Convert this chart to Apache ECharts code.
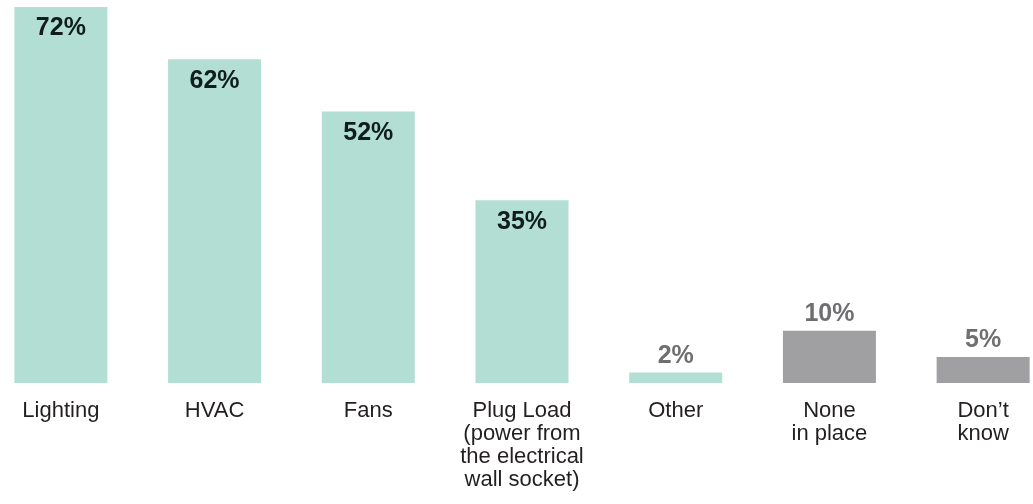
<!DOCTYPE html>
<html>
<head>
<meta charset="utf-8">
<script src="https://cdn.jsdelivr.net/npm/echarts@6/dist/echarts.min.js"></script>
<style>
html,body{margin:0;padding:0;background:#fff;overflow:hidden;width:1033px;height:504px;}
#wrap{position:relative;width:1033px;height:504px;overflow:hidden;}
#chart{position:absolute;left:-16px;top:0;width:1076px;height:504px;}
</style>
</head>
<body>
<div id="wrap"><div id="chart"></div></div>
<script>
const categories = ['Lighting', 'HVAC', 'Fans', 'Plug Load\n(power from\nthe electrical\nwall socket)', 'Other', 'None\nin place', 'Don\u2019t\nknow'];
const values = [72, 62, 52, 35, 2, 10, 5];
const responseType = ['measure', 'measure', 'measure', 'measure', 'measure', 'none', 'none'];

const TEAL = '#b3ded4';
const GRAY = '#a0a0a3';
const FONT = '"Liberation Sans", Arial, Helvetica, sans-serif';

const seriesData = values.map((v, i) => {
  const isMeasure = responseType[i] === 'measure';
  const inside = v >= 20;
  return {
    value: v,
    itemStyle: { color: isMeasure ? TEAL : GRAY },
    label: {
      position: inside ? 'insideTop' : 'top',
      distance: inside ? 9 : 4,
      color: inside ? '#101d1a' : '#6f6f72'
    }
  };
});

const chart = echarts.init(document.getElementById('chart'), null, { renderer: 'canvas' });
chart.setOption({
  animation: false,
  backgroundColor: '#ffffff',
  grid: { left: 0, right: 0, top: 7, bottom: 121, containLabel: false },
  xAxis: {
    type: 'category',
    data: categories,
    axisLine: { show: false },
    axisTick: { show: false },
    axisLabel: {
      interval: 0,
      margin: 16,
      color: '#231f20',
      fontFamily: FONT,
      fontSize: 22,
      lineHeight: 23
    }
  },
  yAxis: {
    type: 'value',
    min: 0,
    max: 72,
    show: false,
    splitLine: { show: false }
  },
  series: [{
    type: 'bar',
    data: seriesData,
    barWidth: 93,
    label: {
      show: true,
      formatter: '{c}%',
      fontFamily: FONT,
      fontWeight: 'bold',
      fontSize: 25
    }
  }]
});
</script>
</body>
</html>
